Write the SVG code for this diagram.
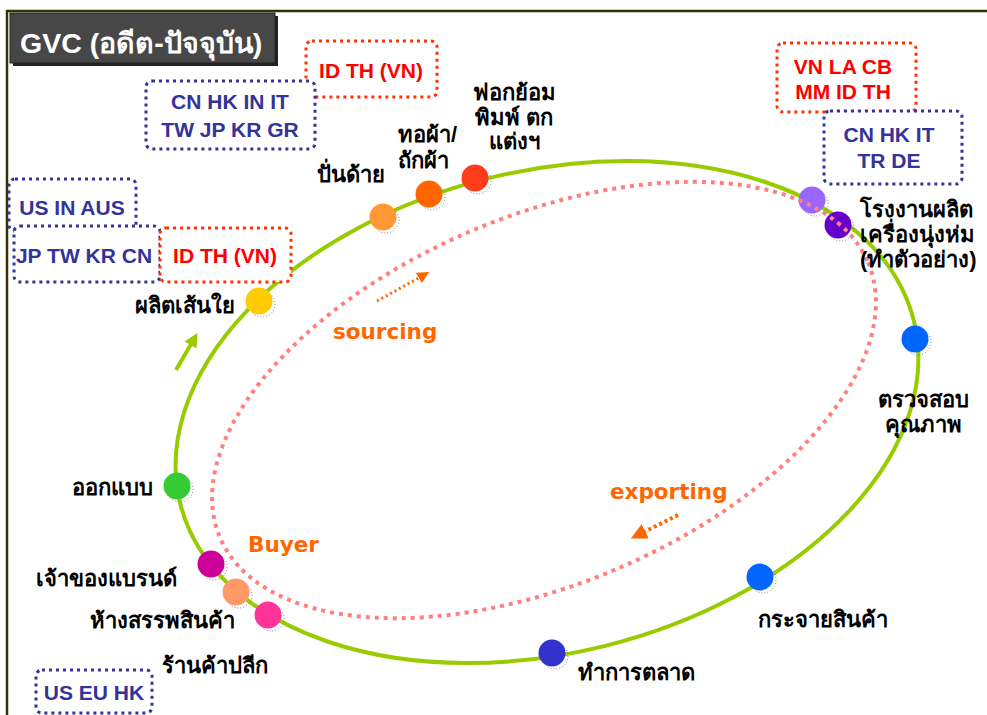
<svg xmlns="http://www.w3.org/2000/svg" width="987" height="715" viewBox="0 0 987 715">
<defs>
<style>
.lbl{font-family:Tahoma,"Liberation Sans","Noto Sans",sans-serif;font-weight:bold;font-size:22px;fill:#000}
.ctry{font-family:Tahoma,"Liberation Sans",sans-serif;font-weight:bold;font-size:21px}
.blue{fill:#333399}
.red{fill:#ff0000}
.bx{fill:#fff;stroke-width:3;stroke-dasharray:3 4}
.bxb{stroke:#333399}
.bxr{stroke:#ff3300}
.org{font-family:"DejaVu Sans",Verdana,sans-serif;font-weight:bold;font-size:21.5px;fill:#ff6600}
.sh{fill:none;stroke:#777;stroke-width:1;stroke-dasharray:1 2}
</style>
<marker id="ao" viewBox="0 0 10 10" refX="5" refY="5" markerWidth="4" markerHeight="4" orient="auto"><path d="M0,0 L10,5 L0,10 Z" fill="#ff6600"/></marker>
<marker id="ag" viewBox="0 0 10 10" refX="5" refY="5" markerWidth="3.5" markerHeight="3.5" orient="auto"><path d="M0,0 L10,5 L0,10 Z" fill="#99cc00"/></marker>
</defs>
<rect width="987" height="715" fill="#fff"/>
<path d="M7,715 V11 H987" fill="none" stroke="#333300" stroke-width="2.5"/>

<g id="title">
<rect x="13" y="16" width="265" height="50" fill="#222"/>
<rect x="10" y="13" width="265" height="50" fill="#474747" stroke="#222" stroke-width="1"/>
<text x="20" y="53" font-family="Tahoma,'Liberation Sans',sans-serif" font-weight="bold" font-size="28.5" fill="#fff">GVC (อดีต-ปัจจุบัน)</text>
</g>

<g id="connectors">
<ellipse cx="547" cy="412" rx="378" ry="241" transform="rotate(-14 547 412)" fill="none" stroke="#99cc00" stroke-width="4"/>
<line x1="176" y1="370" x2="194" y2="339" stroke="#99cc00" stroke-width="4" marker-end="url(#ag)"/>
<line x1="377" y1="301" x2="424" y2="275" stroke="#ff6600" stroke-width="3" stroke-dasharray="2 3" marker-end="url(#ao)"/>
<line x1="678" y1="515" x2="638" y2="535" stroke="#ff6600" stroke-width="4" stroke-dasharray="3 3" marker-end="url(#ao)"/>
</g>

<g id="dots">
<circle class="sh" cx="262" cy="304" r="13"/><circle cx="259" cy="301" r="13.5" fill="#ffcc00"/>
<circle class="sh" cx="386" cy="220" r="13"/><circle cx="383" cy="217" r="13.5" fill="#ff9933"/>
<circle class="sh" cx="432" cy="197" r="13"/><circle cx="429" cy="194" r="13.5" fill="#ff6600"/>
<circle class="sh" cx="478" cy="181" r="13"/><circle cx="475" cy="178" r="13.5" fill="#ff3d1a"/>
<circle class="sh" cx="815" cy="203" r="13"/><circle cx="812" cy="200" r="13.5" fill="#9966ff"/>
<circle class="sh" cx="841" cy="228" r="13"/><circle cx="838" cy="225" r="13.5" fill="#6600cc"/>
<circle class="sh" cx="918" cy="342" r="13"/><circle cx="915" cy="339" r="13.5" fill="#0066ff"/>
<circle class="sh" cx="763" cy="580" r="13"/><circle cx="760" cy="577" r="13.5" fill="#0066ff"/>
<circle class="sh" cx="555" cy="656" r="13"/><circle cx="552" cy="653" r="13.5" fill="#3333cc"/>
<circle class="sh" cx="180" cy="489" r="13"/><circle cx="177" cy="486" r="13.5" fill="#33cc33"/>
<circle class="sh" cx="214" cy="567" r="13"/><circle cx="211" cy="564" r="13.5" fill="#cc0099"/>
<circle class="sh" cx="239" cy="595" r="13"/><circle cx="236" cy="592" r="13.5" fill="#ff9966"/>
<circle class="sh" cx="271" cy="618" r="13"/><circle cx="268" cy="615" r="13.5" fill="#ff3399"/>
</g>

<g id="inner-loop">
<ellipse cx="544" cy="400" rx="352" ry="184" transform="rotate(-23 544 400)" fill="none" stroke="#ff8080" stroke-width="4" stroke-dasharray="4 5"/>
</g>

<g id="box-id-th-top"><rect class="bx bxr" x="306" y="41" width="131" height="56" rx="6"/><text class="ctry red" x="371" y="78" text-anchor="middle">ID TH (VN)</text></g>
<g id="box-cn-hk-in-it"><rect class="bx bxb" x="146" y="81" width="169" height="68" rx="6"/><text class="ctry blue" x="230" y="109" text-anchor="middle">CN HK IN IT</text><text class="ctry blue" x="230" y="137" text-anchor="middle">TW JP KR GR</text></g>
<g id="box-us-in-aus"><rect class="bx bxb" x="9" y="179" width="127" height="52" rx="6"/><text class="ctry blue" x="72" y="215" text-anchor="middle">US IN AUS</text></g>
<g id="box-jp-tw"><rect class="bx bxb" x="14" y="226" width="146" height="56" rx="6"/><text class="ctry blue" x="84" y="263" text-anchor="middle">JP TW KR CN</text></g>
<g id="box-id-th-left"><rect class="bx bxr" x="160" y="228" width="131" height="54" rx="6"/><text class="ctry red" x="225" y="263" text-anchor="middle">ID TH (VN)</text></g>
<g id="box-vn-la"><rect class="bx bxr" x="777" y="43" width="139" height="69" rx="6"/><text class="ctry red" x="843" y="74" text-anchor="middle">VN LA CB</text><text class="ctry red" x="843" y="99" text-anchor="middle">MM ID TH</text></g>
<g id="box-cn-hk-it"><rect class="bx bxb" x="824" y="111" width="138" height="73" rx="6"/><text class="ctry blue" x="889" y="142" text-anchor="middle">CN HK IT</text><text class="ctry blue" x="889" y="168" text-anchor="middle">TR DE</text></g>
<g id="box-us-eu-hk"><rect class="bx bxb" x="36" y="670" width="116" height="43" rx="6"/><text class="ctry blue" x="94" y="700" text-anchor="middle">US EU HK</text></g>

<g id="labels">
<text class="lbl" x="514" y="100" text-anchor="middle">ฟอกย้อม</text>
<text class="lbl" x="514" y="125" text-anchor="middle">พิมพ์ ตก</text>
<text class="lbl" x="514" y="149" text-anchor="middle">แต่งฯ</text>
<text class="lbl" x="398" y="142">ทอผ้า/</text>
<text class="lbl" x="398" y="168">ถักผ้า</text>
<text class="lbl" x="317" y="182">ปั่นด้าย</text>
<text class="lbl" x="235" y="313" text-anchor="end">ผลิตเส้นใย</text>
<text class="lbl" x="153" y="495" text-anchor="end">ออกแบบ</text>
<text class="lbl" x="177" y="586" text-anchor="end">เจ้าของแบรนด์</text>
<text class="lbl" x="235" y="628" text-anchor="end">ห้างสรรพสินค้า</text>
<text class="lbl" x="162" y="673">ร้านค้าปลีก</text>
<text class="lbl" x="578" y="680">ทำการตลาด</text>
<text class="lbl" x="758" y="627">กระจายสินค้า</text>
<text class="lbl" x="923" y="407" text-anchor="middle">ตรวจสอบ</text>
<text class="lbl" x="923" y="432" text-anchor="middle">คุณภาพ</text>
<text class="lbl" x="860" y="217">โรงงานผลิต</text>
<text class="lbl" x="860" y="242">เครื่องนุ่งห่ม</text>
<text class="lbl" x="860" y="267">(ทำตัวอย่าง)</text>
<text class="org" x="333" y="339">sourcing</text>
<text class="org" x="610" y="499">exporting</text>
<text class="org" x="248" y="552">Buyer</text>
</g>
</svg>
